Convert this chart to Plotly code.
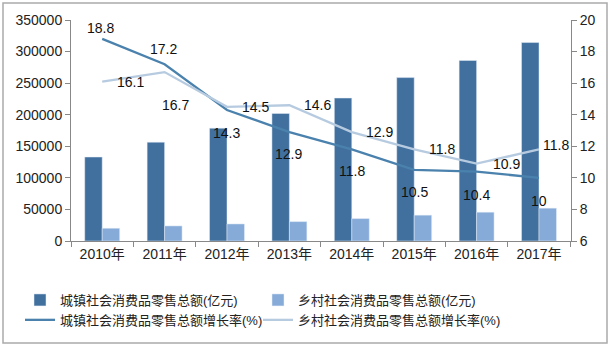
import plotly.graph_objects as go

years = ["2010年", "2011年", "2012年", "2013年", "2014年", "2015年", "2016年", "2017年"]
urban_sales = [133000, 156500, 178700, 202000, 226400, 258800, 285900, 314300]
rural_sales = [20200, 23900, 27000, 30700, 35500, 40900, 45600, 52000]
urban_growth = [18.8, 17.2, 14.3, 12.9, 11.8, 10.5, 10.4, 10]
rural_growth = [16.1, 16.7, 14.5, 14.6, 12.9, 11.8, 10.9, 11.8]

names = ["城镇社会消费品零售总额(亿元)", "乡村社会消费品零售总额(亿元)",
         "城镇社会消费品零售总额增长率(%)", "乡村社会消费品零售总额增长率(%)"]

# label offsets (px) for the data labels
urban_off = [(-2, 11), (-1, 15), (-1, -23), (-1, -22), (0, -22), (0, -22), (0, -23), (0, -23)]
rural_off = [(28, 0), (11, -33), (28, 0), (28, 0), (28, 0), (28, 0), (30, 0), (17, 4)]

FONT = "Liberation Sans, Noto Sans CJK SC, sans-serif"

fig = go.Figure()
fig.add_trace(go.Bar(x=years, y=urban_sales, name=names[0], marker_color="#41709f",
                     yaxis="y", legend="legend"))
fig.add_trace(go.Bar(x=years, y=rural_sales, name=names[1], marker_color="#86abd9",
                     yaxis="y", legend="legend2"))
fig.add_trace(go.Scatter(x=years, y=urban_growth, name=names[2], mode="lines",
                         line=dict(color="#4a82ad", width=2.3), yaxis="y2", legend="legend"))
fig.add_trace(go.Scatter(x=years, y=rural_growth, name=names[3], mode="lines",
                         line=dict(color="#b7cbe0", width=2.3), yaxis="y2", legend="legend2"))

anns = []
for yr, v, (dx, dy) in zip(years, urban_growth, urban_off):
    anns.append(dict(x=yr, y=v, xref="x", yref="y2", text=f"{v:g}", showarrow=False,
                     xshift=dx, yshift=dy, font=dict(size=14, color="#111", family=FONT)))
for yr, v, (dx, dy) in zip(years, rural_growth, rural_off):
    anns.append(dict(x=yr, y=v, xref="x", yref="y2", text=f"{v:g}", showarrow=False,
                     xshift=dx, yshift=dy, font=dict(size=14, color="#111", family=FONT)))

L, R, T, B = 71, 42, 20, 106
W, H = 613, 347
pw, ph = W - L - R, H - T - B

def px(xp):
    return (xp - L) / pw

def py(yp):
    return (H - B - yp) / ph

leg_common = dict(orientation="v", yanchor="top", xanchor="left",
                  font=dict(size=13, color="#222"), traceorder="normal",
                  bgcolor="rgba(0,0,0,0)")

fig.update_layout(
    width=W, height=H,
    margin=dict(l=L, r=R, t=T, b=B),
    paper_bgcolor="white", plot_bgcolor="white",
    barmode="group", bargap=0.44, bargroupgap=0,
    font=dict(family=FONT, size=14, color="#222"),
    xaxis=dict(showline=True, linecolor="#888", linewidth=1, ticks="outside",
               tickson="boundaries", ticklen=5, tickcolor="#888", showgrid=False,
               tickfont=dict(size=14)),
    yaxis=dict(range=[0, 350000], dtick=50000, showline=True, linecolor="#888",
               ticks="outside", ticklen=5, tickcolor="#888", showgrid=False,
               zeroline=False, tickformat="d", tickfont=dict(size=14)),
    yaxis2=dict(range=[6, 20], dtick=2, overlaying="y", side="right", showline=True,
                linecolor="#888", ticks="outside", ticklen=5, tickcolor="#888",
                showgrid=False, zeroline=False, tickfont=dict(size=14)),
    legend=dict(x=px(20), y=py(285), **leg_common),
    legend2=dict(x=px(258), y=py(285), **leg_common),
    annotations=anns,
    shapes=[dict(type="rect", xref="paper", yref="paper",
                 x0=px(3), x1=px(607), y0=py(343), y1=py(3),
                 line=dict(color="#aaa", width=1.5), fillcolor="rgba(0,0,0,0)", layer="below")],
    showlegend=True,
)

fig.write_html("out.html")
